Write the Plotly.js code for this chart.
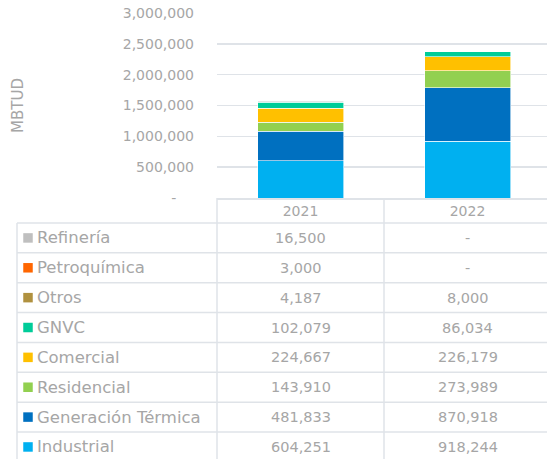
<!DOCTYPE html>
<html>
<head>
<meta charset="utf-8">
<script src="https://cdn.plot.ly/plotly-3.0.1.min.js"></script>
<style>
  html, body { margin: 0; padding: 0; background: #fff; }
  #chart { width: 547px; height: 459px; }
</style>
</head>
<body>
<div id="chart"></div>
<script>
// data, bottom of stack first
const years = ["2021", "2022"];
const sectors = ["Industrial", "Generación Térmica", "Residencial", "Comercial", "GNVC", "Otros", "Petroquímica", "Refinería"];
const sectorColors = ["#00b0f0", "#0070c0", "#92d050", "#ffc000", "#00cc99", "#b0913f", "#ff6600", "#bfbfbf"];
const values2021 = [604251, 481833, 143910, 224667, 102079, 4187, 3000, 16500];
const values2022 = [918244, 870918, 273989, 226179, 86034, 8000, 0, 0];
const yTickVals = [0, 500000, 1000000, 1500000, 2000000, 2500000, 3000000];
const yTickText = ["-\u00a0\u00a0\u00a0\u00a0", "500,000", "1,000,000", "1,500,000", "2,000,000", "2,500,000", "3,000,000"];

const textColor = "#a6a6a6";
const lineColor = "#dfe3e8";
const font = "DejaVu Sans, sans-serif";

// page geometry (px)
const W = 547, H = 459;
const plotLeft = 217, plotTop = 13, plotBottom = 198;
const plotW = W - plotLeft, plotH = plotBottom - plotTop;
const headerBottom = 223, rowH = 29.86, tableLeft = 17;

const paperX = px => (px - plotLeft) / plotW;
const paperY = py => (plotBottom - py) / plotH;

const traces = sectors.map((name, i) => ({
    type: "bar",
    name: name,
    x: years,
    y: [values2021[i], values2022[i]],
    marker: { color: sectorColors[i], line: { color: "#ffffff", width: 0.6 } },
    hoverinfo: "skip"
}));

const fmt = v => v === 0 ? "-" : v.toLocaleString("en-US");

const shapes = [];
const annotations = [];

// table grid
for (let k = 0; k <= sectors.length; k++) {
    const y = paperY(headerBottom + k * rowH);
    shapes.push({ type: "line", xref: "paper", yref: "paper", x0: paperX(tableLeft), x1: 1, y0: y, y1: y,
        line: { color: lineColor, width: 1.5 } });
}
shapes.push({ type: "line", xref: "paper", yref: "paper", x0: paperX(tableLeft), x1: paperX(tableLeft),
    y0: paperY(headerBottom), y1: paperY(H + 5), line: { color: lineColor, width: 1.5 } });
shapes.push({ type: "line", xref: "paper", yref: "paper", x0: 0, x1: 0,
    y0: 0, y1: paperY(H + 5), line: { color: lineColor, width: 1.5 } });
shapes.push({ type: "line", xref: "x", yref: "paper", x0: 0.5, x1: 0.5,
    y0: 0, y1: paperY(H + 5), line: { color: lineColor, width: 1.5 } });

// table rows: top row is the top of the stack
sectors.forEach((name, i) => {
    const row = sectors.length - 1 - i;
    const cy = paperY(headerBottom + row * rowH + rowH / 2);
    shapes.push({ type: "rect", xref: "paper", yref: "paper", xsizemode: "pixel", ysizemode: "pixel",
        xanchor: paperX(28), yanchor: cy, x0: -4.75, x1: 4.75, y0: -4.75, y1: 4.75,
        fillcolor: sectorColors[i], line: { width: 0 } });
    annotations.push({ xref: "paper", yref: "paper", x: paperX(35), y: cy, xanchor: "left", yanchor: "middle",
        text: name, showarrow: false, font: { family: font, size: 16.5, color: textColor } });
    // category axis: annotation x is the category index
    [values2021[i], values2022[i]].forEach((v, j) => {
        annotations.push({ xref: "x", yref: "paper", x: j, y: cy, xanchor: "center", yanchor: "middle",
            text: fmt(v), showarrow: false, font: { family: font, size: 14.5, color: textColor } });
    });
});

const layout = {
    width: W,
    height: H,
    margin: { l: plotLeft, r: 0, t: plotTop, b: H - plotBottom },
    barmode: "stack",
    bargap: 0.485,
    showlegend: false,
    paper_bgcolor: "#ffffff",
    plot_bgcolor: "#ffffff",
    font: { family: font, color: textColor },
    xaxis: {
        type: "category",
        range: [-0.5, -0.5 + plotW / 167],
        showline: true,
        linecolor: lineColor,
        linewidth: 1.5,
        showgrid: false,
        ticks: "",
        tickfont: { family: font, size: 14, color: textColor },
        fixedrange: true
    },
    yaxis: {
        range: [0, 3000000],
        tickvals: yTickVals,
        ticktext: yTickText,
        showgrid: true,
        gridcolor: lineColor,
        gridwidth: 1.5,
        zeroline: false,
        ticks: "",
        ticklabelstandoff: 22,
        tickfont: { family: font, size: 14, color: textColor },
        title: { text: "MBTUD", standoff: 95, font: { family: font, size: 15, color: textColor } },
        fixedrange: true
    },
    shapes: shapes,
    annotations: annotations
};

Plotly.newPlot("chart", traces, layout, { displayModeBar: false, staticPlot: true });
</script>
</body>
</html>
